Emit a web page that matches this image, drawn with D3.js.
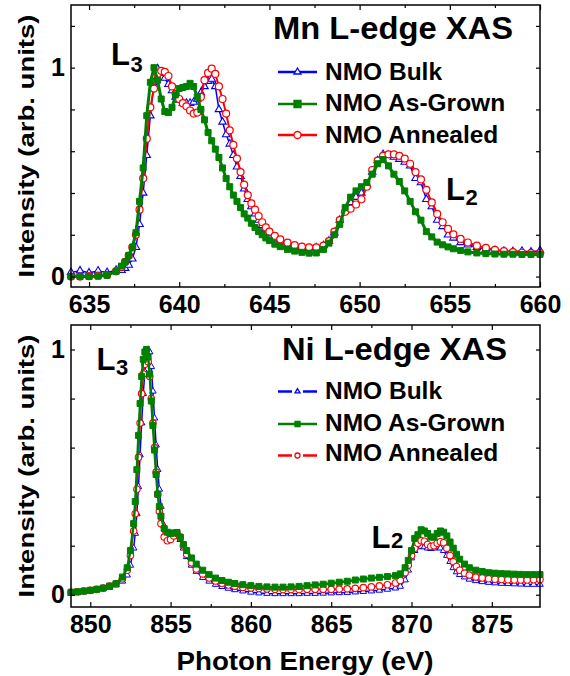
<!DOCTYPE html>
<html><head><meta charset="utf-8">
<script src="https://cdn.jsdelivr.net/npm/d3@7"></script>
<style>
body{margin:0;background:#fff}
svg{display:block}
text{font-family:"Liberation Sans",Arial,Helvetica,sans-serif;font-weight:bold;fill:#000}
</style>
</head><body>
<svg id="chart" width="570" height="676"></svg>
<script>
// ---------------- DATA ----------------
const seriesNames = ["NMO Bulk", "NMO As-Grown", "NMO Annealed"];

const mnEnergy = [634.0,634.5,635.0,635.5,636.0,636.5,636.8,637.0,637.2,637.4,
  637.6,637.8,638.0,638.2,638.4,638.6,638.8,639.0,639.2,639.4,
  639.6,639.8,640.0,640.2,640.4,640.6,640.8,641.0,641.2,641.4,
  641.6,641.8,642.0,642.2,642.4,642.6,642.8,643.0,643.2,643.4,
  643.6,643.8,644.0,644.2,644.4,644.6,644.8,645.0,645.3,645.6,
  646.0,646.4,646.8,647.2,647.6,648.0,648.3,648.6,648.9,649.2,
  649.5,649.8,650.1,650.4,650.7,651.0,651.3,651.6,651.9,652.2,
  652.5,652.8,653.1,653.4,653.7,654.0,654.3,654.6,654.9,655.2,
  655.6,656.0,656.5,657.0,657.5,658.0,658.5,659.0,659.5,660.0];

const mnBulk = [0.02,0.028,0.018,0.027,0.02,0.03,0.03,0.04,0.055,0.085,
  0.14,0.25,0.40,0.58,0.77,0.93,0.995,0.975,0.95,0.92,
  0.89,0.86,0.845,0.83,0.83,0.83,0.835,0.85,0.88,0.91,
  0.935,0.945,0.91,0.80,0.74,0.68,0.635,0.58,0.525,0.48,
  0.42,0.37,0.335,0.30,0.27,0.245,0.225,0.205,0.185,0.17,
  0.155,0.145,0.138,0.135,0.138,0.148,0.17,0.21,0.27,0.32,
  0.355,0.38,0.40,0.44,0.50,0.555,0.585,0.58,0.572,0.562,
  0.548,0.53,0.47,0.45,0.37,0.335,0.27,0.24,0.20,0.185,
  0.163,0.152,0.14,0.132,0.125,0.122,0.12,0.122,0.118,0.125];

const mnAsGrown = [0.0,0.0,0.0,0.002,0.006,0.025,0.05,0.07,0.10,0.14,
  0.21,0.36,0.52,0.77,0.93,1.0,0.94,0.85,0.79,0.785,
  0.81,0.87,0.90,0.905,0.91,0.925,0.91,0.86,0.80,0.75,
  0.69,0.65,0.61,0.57,0.52,0.47,0.43,0.39,0.36,0.33,
  0.30,0.28,0.255,0.235,0.215,0.20,0.185,0.172,0.155,0.143,
  0.13,0.122,0.116,0.112,0.113,0.13,0.16,0.20,0.25,0.33,
  0.38,0.41,0.43,0.45,0.49,0.54,0.56,0.53,0.49,0.455,
  0.41,0.36,0.31,0.27,0.215,0.19,0.165,0.152,0.142,0.133,
  0.125,0.118,0.113,0.11,0.108,0.107,0.107,0.106,0.106,0.106];

const mnAnnealed = [0.0,0.0,0.002,0.004,0.008,0.025,0.045,0.07,0.10,0.14,
  0.20,0.32,0.47,0.66,0.81,0.90,0.97,0.985,0.98,0.96,
  0.91,0.875,0.85,0.83,0.815,0.795,0.78,0.785,0.86,0.94,
  0.975,0.995,0.97,0.91,0.85,0.78,0.70,0.63,0.565,0.50,
  0.44,0.39,0.35,0.32,0.29,0.26,0.235,0.215,0.195,0.178,
  0.162,0.15,0.143,0.14,0.14,0.148,0.17,0.215,0.27,0.31,
  0.325,0.345,0.37,0.43,0.51,0.555,0.578,0.585,0.585,0.578,
  0.565,0.54,0.50,0.465,0.415,0.355,0.30,0.26,0.228,0.202,
  0.18,0.163,0.148,0.137,0.128,0.122,0.117,0.114,0.112,0.112];

const niEnergy = [848.8,849.2,849.6,850.0,850.4,850.8,851.2,851.6,852.0,852.3,
  852.5,852.7,852.8,852.9,853.0,853.1,853.2,853.3,853.4,853.5,
  853.6,853.7,853.8,853.9,854.0,854.1,854.2,854.3,854.4,854.6,
  854.8,855.0,855.2,855.4,855.6,855.8,856.0,856.3,856.6,857.0,
  857.4,857.8,858.2,858.6,859.0,859.5,860.0,860.5,861.0,861.5,
  862.0,862.5,863.0,863.5,864.0,864.5,865.0,865.5,866.0,866.5,
  867.0,867.5,868.0,868.5,869.0,869.3,869.6,869.8,870.0,870.2,
  870.4,870.6,870.8,871.0,871.2,871.4,871.6,871.8,872.0,872.2,
  872.4,872.6,872.8,873.0,873.3,873.6,874.0,874.4,874.8,875.2,
  875.6,876.0,876.4,876.8,877.2,877.6,878.0];

const niBulk = [0.005,0.008,0.012,0.015,0.02,0.025,0.03,0.04,0.055,0.08,
  0.12,0.19,0.25,0.33,0.44,0.57,0.70,0.82,0.91,0.97,
  1.0,0.99,0.93,0.83,0.72,0.61,0.51,0.43,0.36,0.28,
  0.245,0.235,0.24,0.245,0.225,0.19,0.155,0.12,0.095,0.07,
  0.055,0.042,0.033,0.026,0.02,0.015,0.01,0.007,0.005,0.004,
  0.004,0.004,0.004,0.005,0.005,0.006,0.007,0.008,0.009,0.011,
  0.013,0.015,0.018,0.022,0.027,0.034,0.06,0.10,0.15,0.18,
  0.195,0.197,0.195,0.19,0.188,0.19,0.197,0.19,0.18,0.16,
  0.135,0.11,0.093,0.082,0.072,0.063,0.057,0.053,0.05,0.048,
  0.046,0.045,0.044,0.043,0.042,0.042,0.042];

const niAsGrown = [0.01,0.012,0.015,0.018,0.022,0.027,0.035,0.045,0.072,0.11,
  0.18,0.29,0.38,0.51,0.65,0.78,0.89,0.96,0.99,1.0,
  0.97,0.90,0.79,0.69,0.59,0.49,0.41,0.36,0.32,0.27,
  0.255,0.25,0.252,0.254,0.235,0.205,0.18,0.15,0.125,0.10,
  0.082,0.068,0.058,0.051,0.046,0.041,0.037,0.034,0.032,0.031,
  0.031,0.032,0.034,0.037,0.04,0.043,0.047,0.051,0.055,0.06,
  0.064,0.068,0.071,0.074,0.078,0.085,0.11,0.14,0.18,0.23,
  0.245,0.265,0.26,0.25,0.235,0.235,0.25,0.26,0.255,0.24,
  0.215,0.19,0.165,0.145,0.125,0.11,0.10,0.095,0.09,0.088,
  0.086,0.085,0.084,0.083,0.082,0.082,0.082];

const niAnnealed = [0.01,0.012,0.015,0.018,0.022,0.027,0.035,0.045,0.065,0.10,
  0.16,0.26,0.33,0.43,0.56,0.70,0.82,0.90,0.94,0.96,
  0.95,0.89,0.80,0.70,0.60,0.50,0.41,0.34,0.29,0.235,
  0.22,0.225,0.24,0.25,0.235,0.20,0.165,0.13,0.105,0.085,
  0.068,0.056,0.047,0.04,0.035,0.03,0.027,0.025,0.023,0.022,
  0.021,0.021,0.021,0.022,0.022,0.022,0.022,0.023,0.024,0.026,
  0.029,0.032,0.036,0.041,0.048,0.058,0.09,0.12,0.16,0.19,
  0.21,0.22,0.218,0.205,0.197,0.20,0.21,0.216,0.212,0.19,
  0.16,0.135,0.115,0.10,0.088,0.08,0.072,0.068,0.065,0.063,
  0.062,0.061,0.06,0.06,0.06,0.061,0.062];

const mnXTicks = [635, 640, 645, 650, 655, 660];
const niXTicks = [850, 855, 860, 865, 870, 875];
const yTickLabels = [0, 1];

// ---------------- DRAWING ----------------
const svg = d3.select("#chart");
svg.append("rect").attr("width", 570).attr("height", 676).attr("fill", "#fff");

const FRAME_L = 71, FRAME_R = 540;
const BLUE = "#0000ff", GREEN = "#008000", RED = "#ff0000";

function markerPath(type, s) {
  if (type === "triangle") {
    const h = s * 0.866;
    return `M0,${-h * 2 / 3}L${s / 2},${h / 3}L${-s / 2},${h / 3}Z`;
  }
  if (type === "square") {
    return `M${-s / 2},${-s / 2}h${s}v${s}h${-s}Z`;
  }
  const r = s / 2;
  return `M${r},0A${r},${r} 0 1,1 ${-r},0A${r},${r} 0 1,1 ${r},0Z`;
}

function drawMarker(g, type, color, size, cx, cy, sw) {
  g.append("path")
    .attr("transform", `translate(${cx},${cy})`)
    .attr("d", markerPath(type, size))
    .attr("fill", type === "square" ? color : "#fff")
    .attr("stroke", color)
    .attr("stroke-width", sw);
}

function drawPanel(p) {
  const x = d3.scaleLinear().domain(p.xDomain).range([FRAME_L, FRAME_R]);
  const y = d3.scaleLinear().domain(p.yDomain).range([p.bottom, p.top]);
  const g = svg.append("g");

  // curves
  const line = d3.line().x(d => x(d[0])).y(d => y(d[1]));
  p.series.forEach(s => {
    const pts = p.energy.map((e, i) => [e, s.values[i]]);
    g.append("path").datum(pts)
      .attr("d", line)
      .attr("fill", "none")
      .attr("stroke", s.color)
      .attr("stroke-width", s.lw)
      .attr("stroke-linejoin", "round");
    const mg = g.append("g");
    mg.selectAll("path").data(pts).join("path")
      .attr("transform", d => `translate(${x(d[0])},${y(d[1])})`)
      .attr("d", markerPath(s.marker, s.msize))
      .attr("fill", s.marker === "square" ? s.color : "#fff")
      .attr("stroke", s.color)
      .attr("stroke-width", s.msw);
  });

  // frame
  g.append("rect")
    .attr("x", FRAME_L).attr("y", p.top)
    .attr("width", FRAME_R - FRAME_L).attr("height", p.bottom - p.top)
    .attr("fill", "none").attr("stroke", "#000").attr("stroke-width", 1.5);

  const minor = p.xTicks.slice(0, -1).map(t => t + 2.5).concat([p.xTicks[0] - 2.5]).filter(t => t > p.xDomain[0] && t < p.xDomain[1]);

  function styleAxis(sel) {
    sel.select(".domain").remove();
    sel.selectAll("line").attr("stroke", "#000").attr("stroke-width", 1.2);
    sel.attr("font-family", null).attr("font-size", null);
    sel.selectAll("text").attr("font-size", 25).attr("font-weight", "bold")
      .attr("font-family", '"Liberation Sans", Arial, sans-serif').attr("fill", "#000");
  }

  // bottom axis (major with labels)
  g.append("g").attr("transform", `translate(0,${p.bottom})`)
    .call(d3.axisBottom(x).tickValues(p.xTicks).tickSize(-5).tickPadding(8).tickFormat(d3.format("d")))
    .call(styleAxis);
  g.append("g").attr("transform", `translate(0,${p.bottom})`)
    .call(d3.axisBottom(x).tickValues(minor).tickSize(-3).tickFormat(""))
    .call(styleAxis);
  // top axis mirror
  g.append("g").attr("transform", `translate(0,${p.top})`)
    .call(d3.axisTop(x).tickValues(p.xTicks).tickSize(-5).tickFormat(""))
    .call(styleAxis);
  g.append("g").attr("transform", `translate(0,${p.top})`)
    .call(d3.axisTop(x).tickValues(minor).tickSize(-3).tickFormat(""))
    .call(styleAxis);
  // left axis
  g.append("g").attr("transform", `translate(${FRAME_L},0)`)
    .call(d3.axisLeft(y).tickValues(p.yTicks).tickSize(-4).tickPadding(6)
      .tickFormat(d => yTickLabels.includes(d) ? String(d) : ""))
    .call(styleAxis);
  // right axis mirror
  g.append("g").attr("transform", `translate(${FRAME_R},0)`)
    .call(d3.axisRight(y).tickValues(p.yTicks).tickSize(-4).tickFormat(""))
    .call(styleAxis);

  // y-axis title
  const cy = (p.top + p.bottom) / 2;
  g.append("text")
    .attr("transform", `translate(33.5,${cy}) rotate(-90)`)
    .attr("text-anchor", "middle")
    .attr("font-size", 22)
    .attr("textLength", 263).attr("lengthAdjust", "spacingAndGlyphs")
    .text("Intensity (arb. units)");

  // panel title
  g.append("text")
    .attr("x", p.titleX).attr("y", p.titleY)
    .attr("font-size", 31)
    .attr("textLength", p.titleLen).attr("lengthAdjust", "spacingAndGlyphs")
    .text(p.title);

  // legend
  p.legendRows.forEach((ry, i) => {
    const s = p.series.find(d => d.legendIndex === i);
    const lg = g.append("g");
    if (p.dashedLegend && s.marker !== "square") {
      lg.append("line").attr("x1", 278).attr("x2", 292).attr("y1", ry).attr("y2", ry)
        .attr("stroke", s.color).attr("stroke-width", 2.5);
      lg.append("line").attr("x1", 303).attr("x2", 317).attr("y1", ry).attr("y2", ry)
        .attr("stroke", s.color).attr("stroke-width", 2.5);
    } else {
      lg.append("line").attr("x1", 278).attr("x2", 317).attr("y1", ry).attr("y2", ry)
        .attr("stroke", s.color).attr("stroke-width", 2.5);
    }
    drawMarker(lg, s.marker, s.color, p.legendMarkerSize, 297.5, ry, 1.3);
    lg.append("text")
      .attr("x", 325).attr("y", p.legendTextY[i])
      .attr("font-size", 24.5)
      .text(seriesNames[i]);
  });

  // edge labels
  p.edgeLabels.forEach(e => {
    g.append("text").attr("x", e.x).attr("y", e.y).attr("font-size", 31).text("L");
    g.append("text").attr("x", e.x + 19.5).attr("y", e.y + e.subDy).attr("font-size", 22).text(e.sub);
  });
}

// Mn panel
drawPanel({
  energy: mnEnergy,
  xDomain: [634, 660], yDomain: [-0.05, 1.3],
  top: 5, bottom: 287,
  xTicks: mnXTicks,
  yTicks: [0, 0.2, 0.4, 0.6, 0.8, 1, 1.2],
  title: "Mn L-edge XAS", titleX: 273, titleY: 39, titleLen: 240,
  legendRows: [72, 104, 135],
  legendTextY: [79.5, 111, 142.5],
  legendMarkerSize: 7,
  dashedLegend: false,
  series: [
    {values: mnBulk, color: BLUE, marker: "triangle", msize: 7.5, lw: 1.5, msw: 1.1, legendIndex: 0},
    {values: mnAnnealed, color: RED, marker: "circle", msize: 7, lw: 2, msw: 1.2, legendIndex: 2},
    {values: mnAsGrown, color: GREEN, marker: "square", msize: 6, lw: 3, msw: 1, legendIndex: 1}
  ],
  edgeLabels: [
    {x: 111, y: 65, sub: "3", subDy: 7},
    {x: 446, y: 200, sub: "2", subDy: 5}
  ]
});

// Ni panel
drawPanel({
  energy: niEnergy,
  xDomain: [848.8, 878], yDomain: [-0.05, 1.1],
  top: 325, bottom: 607,
  xTicks: niXTicks,
  yTicks: [0, 0.2, 0.4, 0.6, 0.8, 1],
  title: "Ni L-edge XAS", titleX: 282, titleY: 360, titleLen: 225,
  legendRows: [391.5, 424, 455.5],
  legendTextY: [399, 430.5, 461],
  legendMarkerSize: 5,
  dashedLegend: true,
  series: [
    {values: niBulk, color: BLUE, marker: "triangle", msize: 6.5, lw: 1.5, msw: 1, legendIndex: 0},
    {values: niAnnealed, color: RED, marker: "circle", msize: 6.5, lw: 1.6, msw: 1.1, legendIndex: 2},
    {values: niAsGrown, color: GREEN, marker: "square", msize: 6, lw: 2.5, msw: 1, legendIndex: 1}
  ],
  edgeLabels: [
    {x: 96.5, y: 370, sub: "3", subDy: 5},
    {x: 371.5, y: 548, sub: "2", subDy: 0}
  ]
});

// x-axis title
svg.append("text")
  .attr("x", 305).attr("y", 670)
  .attr("text-anchor", "middle")
  .attr("font-size", 26)
  .attr("textLength", 257).attr("lengthAdjust", "spacingAndGlyphs")
  .text("Photon Energy (eV)");
</script>
</body></html>
